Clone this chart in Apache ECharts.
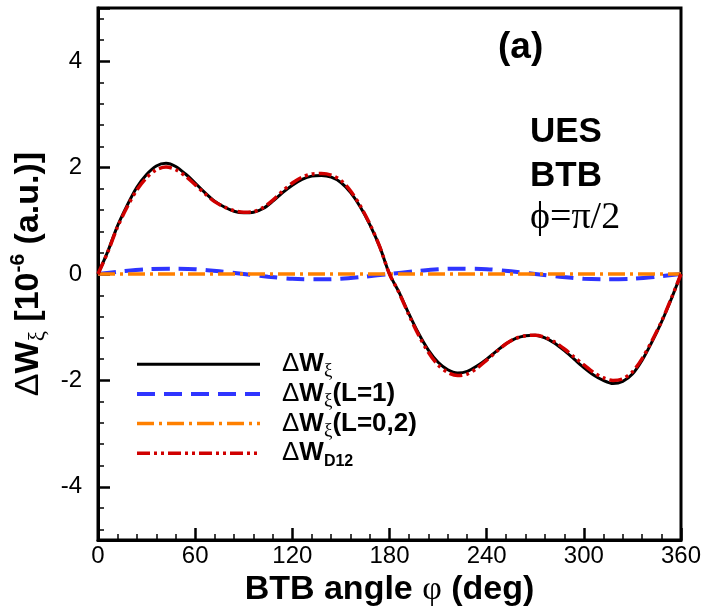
<!DOCTYPE html>
<html>
<head>
<meta charset="utf-8">
<script src="https://cdn.jsdelivr.net/npm/echarts@6/dist/echarts.min.js"></script>
<style>
  html, body { margin: 0; padding: 0; background: #fff; }
  #chart { width: 706px; height: 607px; }
</style>
</head>
<body>
<div id="chart"></div>
<script>
// angles (deg) for the full curves
var angles = [0, 6, 12, 18, 24, 30, 36, 42, 48, 54, 60, 66, 72, 78, 84, 90, 96, 102, 108, 114, 120,
  126, 132, 138, 144, 150, 156, 162, 168, 174, 180, 186, 192, 198, 204, 210, 216, 222, 228, 234, 240,
  246, 252, 258, 264, 270, 276, 282, 288, 294, 300, 306, 312, 318, 324, 330, 336, 342, 348, 354, 360];

// dW_xi (black)
var wTotal = [0, 0.42, 0.90, 1.29, 1.63, 1.87, 2.03, 2.08, 2.02, 1.88, 1.71, 1.53, 1.37, 1.26, 1.18, 1.15, 1.16, 1.23, 1.37, 1.53, 1.67,
  1.78, 1.84, 1.85, 1.82, 1.72, 1.53, 1.26, 0.92, 0.51, 0, -0.35, -0.75, -1.12, -1.43, -1.66, -1.80, -1.86, -1.83, -1.73, -1.60,
  -1.45, -1.31, -1.21, -1.16, -1.15, -1.20, -1.30, -1.44, -1.60, -1.76, -1.90, -2.00, -2.06, -2.02, -1.88, -1.62, -1.28, -0.90, -0.47, 0];

// dW_D12 (red)
var wD12 = [0, 0.41, 0.88, 1.26, 1.58, 1.81, 1.96, 2.01, 1.96, 1.84, 1.68, 1.51, 1.36, 1.26, 1.19, 1.16, 1.17, 1.25, 1.39, 1.56, 1.71,
  1.82, 1.88, 1.89, 1.86, 1.76, 1.56, 1.28, 0.93, 0.51, 0, -0.36, -0.77, -1.15, -1.47, -1.71, -1.85, -1.91, -1.88, -1.77, -1.62,
  -1.46, -1.31, -1.21, -1.16, -1.15, -1.19, -1.28, -1.41, -1.56, -1.71, -1.85, -1.95, -2.00, -1.97, -1.84, -1.59, -1.26, -0.89, -0.46, 0];

// dW_xi(L=1) (blue)
var anglesL1 = [0, 15, 30, 45, 60, 75, 90, 105, 120, 135, 150, 165, 180, 195, 210, 225, 240, 255, 270, 285, 300, 315, 330, 345, 360];
var wL1 = [0, 0.05, 0.09, 0.10, 0.09, 0.05, 0, -0.05, -0.09, -0.10, -0.09, -0.05, 0, 0.05, 0.09, 0.10, 0.09, 0.05, 0, -0.05, -0.09, -0.10, -0.09, -0.05, 0];

// dW_xi(L=0,2) (orange)
var anglesL02 = [0, 60, 120, 180, 240, 300, 360];
var wL02 = [0, 0, 0, 0, 0, 0, 0];

var xTicks = [0, 60, 120, 180, 240, 300, 360];

function pairs(xs, ys) {
  return xs.map(function (x, i) { return [x, ys[i]]; });
}

var legendText = {
  'total': '{d|Δ}{b|W}{s|ξ}',
  'L1': '{d|Δ}{b|W}{s|ξ}{b|(L=1)}',
  'L02': '{d|Δ}{b|W}{s|ξ}{b|(L=0,2)}',
  'D12': '{d|Δ}{b|W}{t|D12}'
};

var sans = 'Liberation Sans';
var serif = 'Liberation Serif';

var chart = echarts.init(document.getElementById('chart'));

var option = {
  animation: false,
  backgroundColor: '#fff',
  grid: { left: 98, right: 25, top: 8, bottom: 67, show: true, borderColor: '#000', borderWidth: 3,
    outerBoundsMode: 'none' },
  xAxis: {
    type: 'value', min: 0, max: 360, interval: 60,
    axisLine: { onZero: false, lineStyle: { color: '#000', width: 3 } },
    axisTick: { inside: true, length: 12, lineStyle: { color: '#000', width: 2.5 } },
    minorTick: { show: true, splitNumber: 5, length: 6, lineStyle: { color: '#000', width: 1.5 } },
    splitLine: { show: false },
    axisLabel: { color: '#000', fontSize: 24, fontFamily: sans, margin: 4,
      customValues: xTicks },
    name: '{b|BTB angle }{g|φ}{b| (deg)}',
    nameLocation: 'middle', nameGap: 22,
    nameTextStyle: {
      rich: {
        b: { fontSize: 34, fontWeight: 'bold', fontFamily: sans, color: '#000' },
        g: { fontSize: 34, fontFamily: serif, color: '#000' }
      }
    }
  },
  yAxis: {
    type: 'value', min: -5, max: 5, splitNumber: 5,
    axisLine: { onZero: false, lineStyle: { color: '#000', width: 3 } },
    axisTick: { inside: true, length: 12, lineStyle: { color: '#000', width: 2.5 } },
    minorTick: { show: true, splitNumber: 5, length: 6, lineStyle: { color: '#000', width: 1.5 } },
    splitLine: { show: false },
    axisLabel: {
      color: '#000', fontSize: 24, fontFamily: sans, margin: 16,
      formatter: function (v) { return Math.abs(v) >= 5 ? '' : String(v); }
    },
    name: '{d|Δ}{b|W}{s|ξ}{b| [10}{p|-6}{b| (a.u.)]}',
    nameLocation: 'middle', nameRotate: 90, nameGap: 38,
    nameTextStyle: {
      rich: {
        d: { fontSize: 34, fontFamily: sans, color: '#000', lineHeight: 42 },
        b: { fontSize: 34, fontWeight: 'bold', fontFamily: sans, color: '#000', lineHeight: 42 },
        s: { fontSize: 23, fontFamily: serif, color: '#000', lineHeight: 22, verticalAlign: 'bottom' },
        p: { fontSize: 21, fontWeight: 'bold', fontFamily: sans, color: '#000', lineHeight: 20, verticalAlign: 'top' }
      }
    }
  },
  legend: {
    orient: 'vertical', left: 135, top: 351, padding: 0,
    itemWidth: 123, itemHeight: 33, itemGap: 0,
    data: ['total', 'L1', 'L02', 'D12'],
    lineStyle: { width: 'inherit' },
    itemStyle: { opacity: 0 },
    formatter: function (name) { return legendText[name]; },
    textStyle: {
      rich: {
        d: { fontSize: 26, fontFamily: sans, color: '#000', lineHeight: 33, padding: [0, 0, 0, 17] },
        b: { fontSize: 26, fontWeight: 'bold', fontFamily: sans, color: '#000', lineHeight: 33 },
        s: { fontSize: 19, fontFamily: serif, color: '#000', lineHeight: 15, verticalAlign: 'bottom' },
        t: { fontSize: 16, fontWeight: 'bold', fontFamily: sans, color: '#000', lineHeight: 14, verticalAlign: 'bottom' }
      }
    }
  },
  graphic: [
    { type: 'text', left: 498, top: 29, style: { text: '(a)', font: 'bold 37px "Liberation Sans"', fill: '#000' } },
    { type: 'text', left: 530, top: 115, style: { text: 'UES', font: 'bold 35px "Liberation Sans"', fill: '#000' } },
    { type: 'text', left: 530, top: 159, style: { text: 'BTB', font: 'bold 35px "Liberation Sans"', fill: '#000' } },
    { type: 'text', left: 530, top: 199, style: { text: 'ϕ=π/2', font: '38px "Liberation Serif", "DejaVu Serif"', fill: '#000' } }
  ],
  series: [
    {
      name: 'L1', type: 'line', symbol: 'none', smooth: 0.3,
      data: pairs(anglesL1, wL1),
      lineStyle: { color: '#2f35ff', width: 4, type: [18, 9] },
      itemStyle: { color: '#2f35ff' }, z: 2
    },
    {
      name: 'L02', type: 'line', symbol: 'none',
      data: pairs(anglesL02, wL02),
      lineStyle: { color: '#ff8000', width: 3.5, type: [17, 5, 3, 5] },
      itemStyle: { color: '#ff8000' }, z: 3
    },
    {
      name: 'total', type: 'line', symbol: 'none', smooth: 0.3,
      data: pairs(angles, wTotal),
      lineStyle: { color: '#000', width: 3 },
      itemStyle: { color: '#000' }, z: 4
    },
    {
      name: 'D12', type: 'line', symbol: 'none', smooth: 0.3,
      data: pairs(angles, wD12),
      lineStyle: { color: '#d00000', width: 3.5, type: [13, 4, 3, 4, 3, 4] },
      itemStyle: { color: '#d00000' }, z: 5
    }
  ]
};

chart.setOption(option);
</script>
</body>
</html>
